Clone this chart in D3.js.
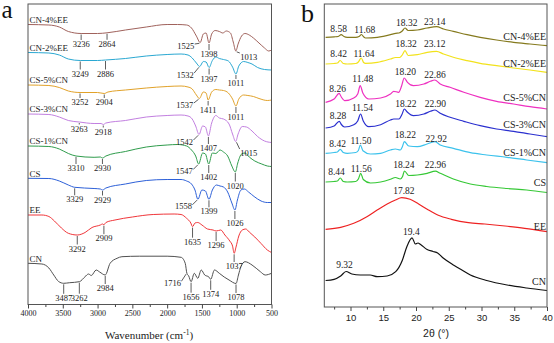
<!DOCTYPE html>
<html>
<head>
<meta charset="utf-8">
<script src="https://cdn.jsdelivr.net/npm/d3@7"></script>
<style>
body { margin: 0; background: #fff; }
svg { display: block; }
</style>
</head>
<body>
<svg id="chart" width="554" height="343"></svg>
<script>
// ---------- panel a : FTIR, stacked (offset transmittance, a.u.) ----------
const ftirNames = ["CN-4%EE", "CN-2%EE", "CS-5%CN", "CS-3%CN", "CS-1%CN", "CS", "EE", "CN"];
const ftirColors = ["#a0625c", "#2aa8d2", "#e1a22a", "#c27fe0", "#2f9c4c", "#2d60d8", "#f0363a", "#505050"];
const wnTicks = [4000, 3500, 3000, 2500, 2000, 1500, 1000, 500];

const ftirCN4EE = [[4000,280.5],[3700,280],[3550,278],[3420,273.5],[3236,271.5],[3000,271.5],[2864,272.2],[2600,275],[2300,278],[2000,280.5],[1850,280.5],[1720,280],[1650,277],[1580,269],[1525,262.5],[1480,271],[1440,272],[1398,262],[1360,271],[1310,274.5],[1250,273.5],[1200,272],[1150,274],[1090,272],[1050,263],[1013,254],[980,261],[930,269],[880,271.5],[820,270],[760,267],[680,262],[600,257],[540,254],[500,255]];
const ftirCN2EE = [[4000,252.5],[3700,252],[3550,250],[3420,246],[3249,244.5],[3000,244.5],[2886,245],[2600,246.5],[2300,249],[2000,250.5],[1800,251],[1700,250],[1640,247],[1580,242],[1532,238.5],[1480,243.5],[1440,243],[1397,237.5],[1350,244.5],[1300,248],[1250,246.5],[1190,245.5],[1120,244],[1060,238],[1011,231],[970,239],[900,243.5],[840,242.5],[780,241],[700,237.5],[600,235.5],[500,235]];
const ftirCS5CN = [[4000,220],[3700,219.5],[3550,217.5],[3420,214],[3252,212.5],[3000,212.5],[2904,211.5],[2850,213],[2600,215],[2300,217],[2000,218.5],[1800,219],[1700,218],[1640,216],[1580,210],[1537,206.5],[1480,213],[1440,212],[1411,205],[1360,213],[1300,215.5],[1250,215],[1190,214.5],[1120,212],[1060,206],[1011,199],[970,206],[900,210],[840,209.5],[760,208.5],[680,206.5],[560,204.5],[500,205]];
const ftirCS3CN = [[4000,191],[3700,190.5],[3550,188],[3420,184.5],[3263,183],[3050,181.5],[2950,181.5],[2918,180.5],[2880,182],[2600,184.5],[2300,188],[2000,189.5],[1800,190],[1700,189],[1640,186],[1590,179],[1542,170.5],[1490,179],[1450,178],[1407,169],[1360,182],[1300,189.5],[1250,187],[1190,186],[1110,181],[1060,171],[1015,163.5],[980,171],[920,178.5],[860,178],[780,174],[700,168.5],[600,164],[500,162.5]];
const ftirCS1CN = [[4000,159],[3700,158.5],[3550,156],[3420,151.5],[3310,149],[3050,147.7],[2960,148],[2930,147],[2880,149],[2600,153.5],[2300,158],[2000,160],[1850,160.5],[1720,159],[1650,155],[1590,149],[1547,141],[1490,152],[1450,151],[1402,141],[1350,152],[1300,151.5],[1240,155],[1190,153],[1130,149],[1070,139],[1020,133],[985,142],[930,151],[880,152],[820,148],[740,144],[640,141],[560,139],[500,138.5]];
const ftirCS = [[4000,126.7],[3700,126.5],[3550,124],[3420,120],[3329,117.7],[3050,116.5],[2960,116],[2929,115],[2880,117],[2600,121],[2300,124.5],[2000,125.5],[1800,125.5],[1720,124],[1650,121],[1600,115],[1558,105.7],[1500,115],[1450,114],[1399,105.7],[1350,115],[1290,120],[1240,119],[1190,118],[1130,113],[1070,102],[1026,95],[990,105],[940,115],[890,116],[830,113],[750,108.5],[650,104],[560,102.5],[500,102.5]];
const ftirEE = [[4000,90],[3800,90],[3700,88.5],[3620,84],[3520,77],[3420,71.7],[3292,70],[3180,72.5],[3080,77.5],[2960,80],[2930,81],[2909,80.3],[2880,82.5],[2750,85],[2500,88],[2200,90.5],[1900,91],[1800,90.5],[1720,86.7],[1660,82],[1635,78.3],[1600,82],[1560,82.5],[1500,80],[1420,76],[1340,75],[1296,74],[1230,75],[1170,70],[1100,64],[1060,59],[1037,51.7],[1010,58],[970,69],[920,75],[870,76],[820,73],[740,68],[650,61.5],[560,55],[500,52.5]];
const ftirCN = [[4000,41.7],[3800,41],[3700,37],[3630,30],[3560,23.5],[3487,21.7],[3400,22.3],[3262,23.3],[3180,28.3],[3130,31],[3090,29.5],[3020,35],[2970,33],[2890,30],[2820,41.7],[2720,46.7],[2650,48.3],[2400,48.8],[2000,48.8],[1800,47.7],[1740,41.7],[1716,31.7],[1690,29],[1656,23.3],[1610,31.7],[1560,26.7],[1510,35],[1460,30],[1400,28],[1374,25.7],[1320,35],[1250,31.7],[1180,28],[1110,25],[1010,21.5],[975,30],[940,38.3],[880,43.3],[780,40],[660,33.3],[590,30],[500,31.7]];
const ftirData = [ftirCN4EE, ftirCN2EE, ftirCS5CN, ftirCS3CN, ftirCS1CN, ftirCS, ftirEE, ftirCN];

// peak annotations: [series, wavenumber of the marked dip, label]
const ftirPeaks = [
  [0,3236,"3236"],[0,2864,"2864"],[0,1525,"1525"],[0,1398,"1398"],[0,1013,"1013"],
  [1,3249,"3249"],[1,2886,"2886"],[1,1532,"1532"],[1,1397,"1397"],[1,1011,"1011"],
  [2,3252,"3252"],[2,2904,"2904"],[2,1537,"1537"],[2,1411,"1411"],[2,1011,"1011"],
  [3,3263,"3263"],[3,2918,"2918"],[3,1542,"1542"],[3,1407,"1407"],[3,1015,"1015"],
  [4,3310,"3310"],[4,2930,"2930"],[4,1547,"1547"],[4,1402,"1402"],[4,1020,"1020"],
  [5,3329,"3329"],[5,2929,"2929"],[5,1558,"1558"],[5,1399,"1399"],[5,1026,"1026"],
  [6,3292,"3292"],[6,2909,"2909"],[6,1635,"1635"],[6,1296,"1296"],[6,1037,"1037"],
  [7,3487,"3487"],[7,3262,"3262"],[7,2890,"2984"],[7,1716,"1716"],[7,1656,"1656"],[7,1374,"1374"],[7,1010,"1078"]
];
// how each annotation is drawn: v = tick straight down, l / r = leader to text at left / right; px offset
const ftirPeakLayout = [
  ["v",6.5],["v",7],["l",6],["v",7],["r",8.5],
  ["v",9],["v",9.5],["l",11],["v",7],["v",5],
  ["v",5.5],["v",4.5],["l",9],["v",5.5],["v",7],
  ["v",2.5],["v",3],["l",10],["v",8],["r",14],
  ["v",8],["v",6],["l",10],["v",9],["v",9.5],
  ["v",8],["v",5.5],["l",10],["v",8],["v",9],
  ["v",9.5],["v",9.5],["v",11],["v",10],["v",8.7],
  ["v",10.5],["v",12],["v",9],["l",12.5],["v",11],["v",10.5],["v",9.5]
];

// ---------- panel b : XRD, stacked (intensity, a.u.) ----------
const xrdNames = ["CN-4%EE", "CN-2%EE", "CS-5%CN", "CS-3%CN", "CS-1%CN", "CS", "EE", "CN"];
const xrdColors = ["#857a1e", "#f2e21c", "#ee30c0", "#2b30cf", "#3cc2ec", "#36c836", "#ee2222", "#111111"];
const thetaTicks = [10, 15, 20, 25, 30, 35, 40];

const xrdCN4EE = [[6.2,269.7],[7.5,270.2],[8.1,270.5],[8.58,272.3],[9.0,270.5],[9.5,269.7],[10.8,269.7],[11.3,270.5],[11.68,272.5],[12.0,270.2],[12.3,269],[14.1,269.7],[16.1,272.3],[16.9,273.7],[17.4,274],[17.9,276],[18.32,279],[18.8,276.5],[20.2,277],[21.7,279],[23.14,280.3],[24.2,278],[25.7,275.7],[27.8,272.3],[29.8,269.7],[32.3,267],[34.9,264.7],[37.4,263],[40,261.3]];
const xrdCN2EE = [[6.2,243],[7.5,243.5],[8.0,244],[8.42,246.5],[8.9,243.5],[9.5,243],[10.8,243.5],[11.2,245],[11.64,249],[12.0,244.5],[12.3,243.7],[14.1,244.7],[16.1,248],[16.9,249.5],[17.5,249.5],[17.9,252],[18.32,256.3],[18.8,251.5],[20.2,252.3],[21.7,254.7],[23.12,255.7],[24.2,253],[25.7,249.7],[27.8,246.3],[29.8,243.7],[32.3,241.3],[34.9,239],[37.4,237],[40,234.7]];
const xrdCS5CN = [[6.2,204.7],[7.5,208],[8.26,213.7],[8.6,210],[9.1,206.3],[10.5,209],[11.1,213],[11.48,221.3],[11.9,213.7],[12.8,208],[14.6,209],[16.1,213],[16.6,215.7],[17.35,214.7],[17.8,221],[18.2,229],[18.7,224.7],[19.6,221.3],[21.2,223],[22.2,225.7],[22.86,227],[23.7,223],[25.2,219.7],[27.3,214.7],[29.8,209.7],[32.3,205.7],[34.9,203],[37.4,200.3],[40,198]];
const xrdCS3CN = [[6.2,179],[7.5,181],[8.28,185.7],[8.6,182.5],[9.1,180],[10.5,182.3],[11.1,186],[11.54,193],[11.95,186],[12.8,180.3],[14.6,182.3],[16.1,187],[16.6,188],[17.4,188],[17.85,192.5],[18.22,198],[18.7,194.7],[19.6,191.3],[21.2,193],[22.2,195.7],[22.9,197],[23.7,193.7],[25.2,189.7],[27.3,185.7],[29.8,181.3],[32.3,178],[34.9,175.7],[37.4,173],[40,170.3]];
const xrdCS1CN = [[6.2,153.7],[7.5,154.5],[8.0,155],[8.42,157.7],[8.9,154.5],[9.5,153.7],[10.8,154.5],[11.2,156.5],[11.5,162],[11.9,156.3],[13.05,153],[14.6,153.7],[16.1,157],[16.86,158],[17.6,157],[17.9,160],[18.22,165.3],[18.9,161],[20.2,160.3],[21.7,163],[22.92,165.3],[23.7,162],[25.7,158.7],[28.3,154.3],[30.8,152],[33.9,149.7],[36.9,147],[40,144.3]];
const xrdCS = [[6.2,125],[7.5,125.5],[8.0,126],[8.44,129],[8.9,125.5],[9.5,125],[10.8,125.5],[11.2,128],[11.56,133.7],[11.95,127.5],[13.05,124],[14.6,125],[16.1,127.7],[16.86,129.5],[17.6,128],[17.95,130.5],[18.24,136],[18.9,131.5],[20.2,132],[21.7,133.7],[22.96,135.8],[23.7,133.7],[25.7,128],[28.3,123],[30.8,120.5],[33.9,118.5],[36.9,117],[40,114.5]];
const xrdEE = [[6.2,77.7],[8.5,79.7],[10.5,83.7],[12.5,90.3],[14.07,97],[15.6,103],[16.86,107],[17.82,109.3],[19.1,107.7],[20.4,103],[21.9,97],[23.4,91.7],[25.4,87.7],[28.0,84.3],[30.5,83],[33.6,81],[36.6,78.7],[40,75.3]];
const xrdCN = [[6.2,26.5],[7.5,27.7],[8.5,31],[9.32,35.5],[10.2,33],[11.5,32],[13.0,32],[14.1,30.3],[15.6,31],[16.9,35.3],[17.9,46.5],[18.6,60.3],[19.4,69.2],[19.9,63],[20.3,64],[20.7,62.5],[21.7,57.5],[22.6,55.5],[23.3,54],[24.2,48.7],[25.7,42],[26.6,38.5],[28.3,32],[30.8,26.5],[33.9,22],[36.9,19],[40,16.5]];
const xrdData = [xrdCN4EE, xrdCN2EE, xrdCS5CN, xrdCS3CN, xrdCS1CN, xrdCS, xrdEE, xrdCN];

// peak labels: [2theta, intensity, text] (where the label sits)
const xrdPeakLabels = [
  [8.18,275,"8.58"],[12.18,274,"11.68"],[18.58,281.5,"18.32"],[22.87,282.5,"23.14"],
  [8.18,250,"8.42"],[12.06,250,"11.64"],[18.49,260,"18.32"],[22.87,260,"23.12"],
  [8.03,215,"8.26"],[11.88,225,"11.48"],[18.38,232.5,"18.20"],[22.90,229,"22.86"],
  [8.10,188,"8.28"],[11.83,196,"11.54"],[18.46,200.5,"18.22"],[22.95,200,"22.90"],
  [8.03,160,"8.42"],[11.60,163.5,"11.50"],[18.38,168.7,"18.22"],[23.10,165.5,"22.92"],
  [7.87,132,"8.44"],[11.63,135,"11.56"],[18.15,139.5,"18.24"],[22.95,139.5,"22.96"],
  [18.15,113,"17.82"],
  [9.09,39,"9.32"],[19.29,72.5,"19.4"]
];
const xrdNameLevels = [267, 240, 206, 179, 151.5, 121.5, 77.5, 22];

// ---------- drawing ----------
const svg = d3.select("#chart");
const ink = "#222";
const SERIF = '"Liberation Serif", "Times New Roman", serif';
const SANS = '"Liberation Sans", Arial, sans-serif';

function valueAt(points, x) {
  const pts = points.slice().sort((a, b) => a[0] - b[0]);
  for (let i = 0; i < pts.length - 1; i++) {
    if (x >= pts[i][0] && x <= pts[i + 1][0]) {
      const t = (x - pts[i][0]) / (pts[i + 1][0] - pts[i][0]);
      return pts[i][1] + t * (pts[i + 1][1] - pts[i][1]);
    }
  }
  return pts[0][1];
}

// panel a
const xA = d3.scaleLinear().domain([4000, 500]).range([28, 271.5]);
const yA = d3.scaleLinear().domain([0, 301]).range([305, 4]);
const gA = svg.append("g");

const lineA = d3.line().x(d => xA(d[0])).y(d => yA(d[1])).curve(d3.curveMonotoneX);
gA.selectAll("path.ftir").data(ftirData).enter().append("path")
  .attr("class", "ftir")
  .attr("d", lineA)
  .attr("fill", "none")
  .attr("stroke", (d, i) => ftirColors[i])
  .attr("stroke-width", 1);

gA.selectAll("text.name").data(ftirNames).enter().append("text")
  .attr("x", xA(4000) + 1.5)
  .attr("y", (d, i) => yA(ftirData[i][0][1]) - 1.8)
  .style("font-family", SERIF)
  .attr("font-size", 9)
  .attr("fill", ink)
  .text(d => d);

ftirPeaks.forEach((p, i) => {
  const [s, wn, label] = p;
  const [style, off] = ftirPeakLayout[i];
  const x = xA(wn), y = yA(valueAt(ftirData[s], wn));
  const t = gA.append("text").style("font-family", SERIF).attr("font-size", 8.5).attr("fill", ink).text(label);
  if (style === "v") {
    gA.append("line").attr("x1", x).attr("x2", x).attr("y1", y + 1).attr("y2", y + off)
      .attr("stroke", "#333").attr("stroke-width", 0.8);
    t.attr("x", x).attr("y", y + off + 7).attr("text-anchor", "middle");
  } else if (style === "l") {
    gA.append("line").attr("x1", x - 0.8).attr("y1", y + 0.8).attr("x2", x - 5.5).attr("y2", y + off - 4.5)
      .attr("stroke", "#333").attr("stroke-width", 0.8);
    t.attr("x", x - 6).attr("y", y + off).attr("text-anchor", "end");
  } else {
    gA.append("line").attr("x1", x + 0.8).attr("y1", y + 0.8).attr("x2", x + 4).attr("y2", y + off - 6.5)
      .attr("stroke", "#333").attr("stroke-width", 0.8);
    t.attr("x", x + 4.5).attr("y", y + off).attr("text-anchor", "start");
  }
});

gA.append("rect").attr("x", 28).attr("y", 4).attr("width", 243.5).attr("height", 300.5)
  .attr("fill", "none").attr("stroke", "#555").attr("stroke-width", 1);

const axA = gA.append("g").attr("transform", "translate(0,304.5)")
  .call(d3.axisBottom(xA).tickValues(wnTicks).tickSize(4).tickPadding(1.5).tickFormat(d3.format("d")));
gA.append("g").attr("transform", "translate(0,304.5)")
  .call(d3.axisBottom(xA).tickValues(d3.range(3750, 500, -500)).tickSize(2.5).tickFormat(""))
  .call(g => g.select(".domain").remove());
axA.select(".domain").remove();
axA.selectAll("text").attr("font-size", 8).attr("fill", ink).style("font-family", SERIF);
gA.selectAll(".tick line").attr("stroke", "#444");

const titleA = gA.append("text").attr("x", 149).attr("y", 339).style("font-family", SERIF)
  .attr("text-anchor", "middle").attr("font-size", 11).attr("fill", ink);
titleA.append("tspan").text("Wavenumber (cm");
titleA.append("tspan").attr("dy", -4).attr("font-size", 7.5).text("-1");
titleA.append("tspan").attr("dy", 4).text(")");

svg.append("text").style("font-family", SERIF).attr("x", 1.5).attr("y", 17.5)
  .attr("font-size", 25).attr("fill", "#111").text("a");

// panel b
const xB = d3.scaleLinear().domain([6, 40]).range([324.3, 547]);
const yB = d3.scaleLinear().domain([0, 303]).range([307, 4]);
const gB = svg.append("g");

const lineB = d3.line().x(d => xB(d[0])).y(d => yB(d[1])).curve(d3.curveMonotoneX);
gB.selectAll("path.xrd").data(xrdData).enter().append("path")
  .attr("class", "xrd")
  .attr("d", lineB)
  .attr("fill", "none")
  .attr("stroke", (d, i) => xrdColors[i])
  .attr("stroke-width", 1.2);

gB.selectAll("text.peak").data(xrdPeakLabels).enter().append("text")
  .attr("x", d => xB(d[0]))
  .attr("y", d => yB(d[1]))
  .attr("text-anchor", "middle")
  .style("font-family", SERIF)
  .attr("font-size", 9.5)
  .attr("fill", ink)
  .text(d => d[2]);

gB.selectAll("text.name").data(xrdNames).enter().append("text")
  .attr("x", xB(39.85))
  .attr("y", (d, i) => yB(xrdNameLevels[i]))
  .attr("text-anchor", "end")
  .style("font-family", SERIF)
  .attr("font-size", 10)
  .attr("fill", ink)
  .text(d => d);

gB.append("rect").attr("x", 324.3).attr("y", 4).attr("width", 222.7).attr("height", 303)
  .attr("fill", "none").attr("stroke", "#555").attr("stroke-width", 1);

const axB = gB.append("g").attr("transform", "translate(0,307)")
  .call(d3.axisBottom(xB).tickValues(thetaTicks).tickSize(4).tickPadding(3.5));
gB.append("g").attr("transform", "translate(0,307)")
  .call(d3.axisBottom(xB).tickValues(d3.range(7.5, 40, 5)).tickSize(2.5).tickFormat(""))
  .call(g => g.select(".domain").remove());
axB.select(".domain").remove();
axB.selectAll("text").attr("font-size", 9.5).attr("fill", ink).style("font-family", SANS);
gB.selectAll(".tick line").attr("stroke", "#444");

gB.append("text").style("font-family", SANS).attr("x", 436).attr("y", 337)
  .attr("text-anchor", "middle").attr("font-size", 10.5).attr("fill", ink).text("2θ (°)");

svg.append("text").style("font-family", SERIF).attr("x", 301).attr("y", 22)
  .attr("font-size", 26).attr("fill", "#111").text("b");
</script>
</body>
</html>
